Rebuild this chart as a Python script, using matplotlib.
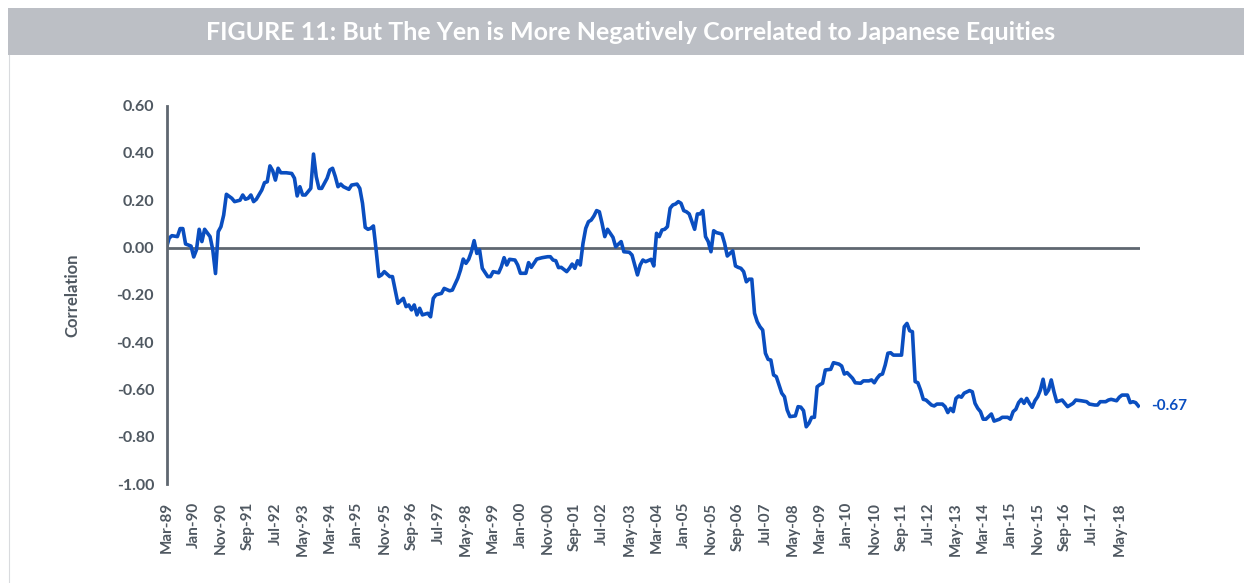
import matplotlib
matplotlib.use("Agg")
import matplotlib.pyplot as plt
from matplotlib.patches import Rectangle
from matplotlib.lines import Line2D

# months since Mar-89 and the rolling correlation
months = [
    0, 1, 2, 4, 5, 6, 7, 9, 10, 11, 12, 13, 14, 16, 17, 18, 19, 20, 21, 22,
    24, 25, 27, 28, 29, 30, 31, 32, 33, 35, 36, 37, 38, 39, 40, 41, 42, 44, 46, 47,
    48, 49, 50, 51, 53, 54, 55, 56, 57, 59, 60, 61, 62, 63, 64, 65, 67, 68, 70, 71,
    72, 73, 74, 75, 76, 77, 78, 79, 80, 82, 83, 84, 85, 87, 88, 89, 90, 91, 92, 93,
    94, 96, 97, 98, 99, 101, 102, 104, 105, 107, 108, 109, 110, 111, 112, 113, 114, 115, 116, 118,
    119, 120, 122, 123, 124, 125, 126, 128, 129, 130, 132, 133, 134, 136, 138, 140, 141, 142, 143, 144,
    145, 147, 148, 149, 150, 151, 152, 153, 154, 155, 156, 157, 158, 159, 160, 161, 162, 163, 164, 165,
    167, 168, 170, 171, 172, 173, 174, 175, 176, 178, 179, 180, 181, 182, 183, 184, 185, 186, 187, 188,
    189, 190, 191, 192, 193, 194, 195, 196, 197, 198, 199, 200, 201, 202, 204, 205, 206, 207, 208, 209,
    210, 211, 212, 213, 214, 215, 216, 217, 218, 219, 220, 221, 222, 223, 224, 226, 227, 228, 229, 231,
    232, 233, 234, 235, 236, 237, 238, 239, 240, 241, 242, 244, 245, 247, 248, 249, 250, 252, 253, 255,
    256, 258, 259, 260, 261, 262, 263, 264, 265, 266, 267, 269, 270, 271, 272, 273, 274, 275, 276, 277,
    278, 279, 281, 282, 283, 285, 286, 287, 288, 289, 290, 291, 292, 293, 295, 296, 297, 298, 299, 300,
    301, 303, 304, 306, 307, 309, 310, 311, 312, 313, 314, 315, 316, 317, 318, 319, 320, 321, 322, 323,
    324, 325, 326, 327, 329, 330, 331, 332, 333, 334, 336, 338, 339, 341, 342, 343, 345, 346, 347, 349,
    350, 351, 353, 354, 355, 356, 357,
]
correlation = [
    0.00, 0.04, 0.05, 0.046, 0.08, 0.08, 0.015, 0.006, -0.04, -0.01, 0.077, 0.025, 0.077, 0.046, -0.01, -0.11, 0.067, 0.088, 0.137, 0.225,
    0.208, 0.194, 0.20, 0.222, 0.204, 0.208, 0.222, 0.194, 0.204, 0.243, 0.274, 0.278, 0.345, 0.325, 0.285, 0.335, 0.316, 0.316, 0.313, 0.293,
    0.218, 0.257, 0.222, 0.222, 0.25, 0.395, 0.30, 0.25, 0.25, 0.293, 0.328, 0.335, 0.30, 0.257, 0.268, 0.257, 0.246, 0.264, 0.268, 0.25,
    0.187, 0.085, 0.077, 0.081, 0.091, -0.01, -0.123, -0.116, -0.102, -0.123, -0.123, -0.18, -0.236, -0.215, -0.25, -0.243, -0.264, -0.243, -0.285, -0.257,
    -0.285, -0.278, -0.293, -0.215, -0.20, -0.194, -0.173, -0.183, -0.18, -0.13, -0.095, -0.049, -0.067, -0.05, -0.018, 0.029, -0.025, -0.01, -0.088, -0.123,
    -0.123, -0.102, -0.107, -0.081, -0.043, -0.074, -0.05, -0.053, -0.074, -0.109, -0.109, -0.064, -0.084, -0.049, -0.043, -0.039, -0.039, -0.053, -0.056, -0.085,
    -0.084, -0.102, -0.088, -0.07, -0.088, -0.056, -0.074, 0.018, 0.081, 0.109, 0.116, 0.133, 0.156, 0.151, 0.102, 0.046, 0.077, 0.06, 0.043, 0.003,
    0.025, -0.018, -0.02, -0.032, -0.074, -0.116, -0.074, -0.053, -0.06, -0.05, -0.078, 0.06, 0.046, 0.074, 0.077, 0.088, 0.166, 0.18, 0.184, 0.194,
    0.187, 0.156, 0.151, 0.142, 0.109, 0.077, 0.142, 0.142, 0.156, 0.046, 0.025, -0.018, 0.071, 0.063, 0.057, 0.018, -0.036, -0.025, -0.014, -0.078,
    -0.084, -0.088, -0.102, -0.145, -0.134, -0.134, -0.278, -0.314, -0.335, -0.349, -0.447, -0.473, -0.476, -0.539, -0.546, -0.616, -0.631, -0.687, -0.715, -0.712,
    -0.673, -0.675, -0.69, -0.758, -0.743, -0.718, -0.718, -0.589, -0.58, -0.574, -0.518, -0.515, -0.487, -0.493, -0.501, -0.535, -0.529, -0.553, -0.572, -0.574,
    -0.564, -0.564, -0.56, -0.572, -0.553, -0.539, -0.535, -0.497, -0.447, -0.445, -0.455, -0.455, -0.455, -0.335, -0.321, -0.352, -0.356, -0.567, -0.572, -0.603,
    -0.642, -0.645, -0.666, -0.67, -0.662, -0.662, -0.673, -0.698, -0.68, -0.694, -0.638, -0.628, -0.633, -0.616, -0.605, -0.61, -0.659, -0.68, -0.694, -0.726,
    -0.726, -0.704, -0.734, -0.726, -0.718, -0.718, -0.726, -0.694, -0.684, -0.656, -0.642, -0.659, -0.638, -0.659, -0.676, -0.648, -0.631, -0.603, -0.557, -0.62,
    -0.603, -0.56, -0.61, -0.652, -0.645, -0.659, -0.673, -0.666, -0.659, -0.645, -0.648, -0.652, -0.662, -0.666, -0.666, -0.652, -0.652, -0.645, -0.642, -0.648,
    -0.633, -0.624, -0.624, -0.656, -0.652, -0.656, -0.67,
]

tick_labels = [
    "Mar-89", "Jan-90", "Nov-90", "Sep-91", "Jul-92", "May-93", "Mar-94", "Jan-95", "Nov-95",
    "Sep-96", "Jul-97", "May-98", "Mar-99", "Jan-00", "Nov-00", "Sep-01", "Jul-02", "May-03",
    "Mar-04", "Jan-05", "Nov-05", "Sep-06", "Jul-07", "May-08", "Mar-09", "Jan-10", "Nov-10",
    "Sep-11", "Jul-12", "May-13", "Mar-14", "Jan-15", "Nov-15", "Sep-16", "Jul-17", "May-18",
]
tick_step = 10
y_ticks = [0.6, 0.4, 0.2, 0.0, -0.2, -0.4, -0.6, -0.8, -1.0]
last_label = "-0.67"

title = "FIGURE 11: But The Yen is More Negatively Correlated to Japanese Equities"

BLUE = "#0a4ec0"
GRAY = "#5f6770"
TEXT = "#4f5861"
plt.rcParams["font.family"] = ["Lato", "DejaVu Sans"]

W, H = 1244, 583
fig = plt.figure(figsize=(W / 100, H / 100), dpi=100)

# title banner
fig.patches.append(Rectangle((8 / W, 1 - 55 / H), 1 - 8 / W, 47 / H,
                             transform=fig.transFigure, facecolor="#bcbfc5",
                             edgecolor="none"))
fig.text(631 / W, 1 - 33 / H, title, color="white", fontsize=18,
         fontweight="bold", ha="center", va="center")
fig.lines.append(Line2D([8.5 / W, 8.5 / W], [0, 1 - 55 / H], transform=fig.transFigure,
                        color="#d9dbde", linewidth=0.8))

ax = fig.add_axes([166.5 / W, 1 - 484 / H, (1140 - 166.5) / W, (484 - 105.6) / H])
ax.plot(months, correlation, color=BLUE, linewidth=2.6, solid_joinstyle="round")
ax.axhline(0, color=GRAY, linewidth=2.0, zorder=1)

ax.set_xlim(0, 357.6)
ax.set_ylim(-1.0, 0.6)
ax.set_yticks(y_ticks)
ax.set_yticklabels([f"{v:.2f}" for v in y_ticks])
ax.set_xticks([i * tick_step for i in range(len(tick_labels))])
ax.set_xticklabels(tick_labels, rotation=90)

for s in ["top", "right", "bottom"]:
    ax.spines[s].set_visible(False)
ax.spines["left"].set_color(GRAY)
ax.spines["left"].set_linewidth(2.0)
ax.tick_params(axis="both", length=0, colors=TEXT)
ax.tick_params(axis="y", pad=9, labelsize=11.5)
ax.tick_params(axis="x", pad=13, labelsize=11)
for lbl in ax.get_xticklabels() + ax.get_yticklabels():
    lbl.set_fontweight("bold")

ax.set_ylabel("Correlation", fontsize=12, fontweight="bold", color=TEXT, labelpad=26)

ax.annotate(last_label, xy=(months[-1], correlation[-1]), xytext=(9, 0),
            textcoords="offset points", color=BLUE, fontsize=11,
            fontweight="bold", va="center", ha="left", annotation_clip=False)

fig.savefig("out.png", dpi=100)
